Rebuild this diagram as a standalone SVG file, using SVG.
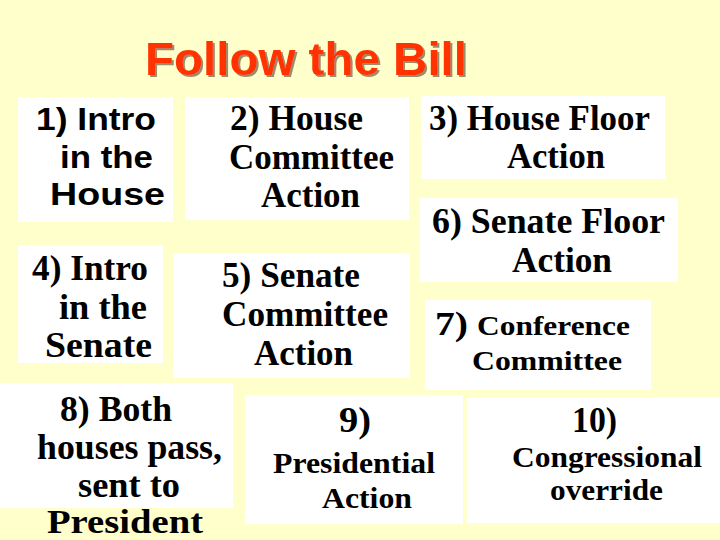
<svg xmlns="http://www.w3.org/2000/svg" width="720" height="540" viewBox="0 0 720 540">
<defs>
<filter id="shadow" x="-5%" y="-20%" width="110%" height="140%">
<feDropShadow dx="2" dy="2" stdDeviation="0.4" flood-color="#9C8C6C" flood-opacity="1"/>
</filter>
</defs>
<style>
.bg{fill:#FFFFCC}
.box{fill:#FFFFFF}
.sans{font-family:"Liberation Sans",Arial,sans-serif;font-weight:bold;font-size:32px;fill:#000}
.serif{font-family:"Liberation Serif","Times New Roman",serif;font-weight:bold;font-size:35px;fill:#000}
.title{font-family:"Liberation Sans",Arial,sans-serif;font-weight:bold;font-size:47px;fill:#FF3300}
</style>
<rect class="bg" x="0" y="0" width="720" height="540"/>
<g id="title">
<text class="title" x="145" y="75" filter="url(#shadow)" textLength="322" lengthAdjust="spacingAndGlyphs">Follow the Bill</text>
</g>
<g id="connectors"/>
<g id="step1">
<rect class="box" x="18" y="97" width="155" height="125"/>
<text class="sans" x="36" y="130" textLength="120" lengthAdjust="spacingAndGlyphs">1) Intro</text>
<text class="sans" x="60" y="168" textLength="93" lengthAdjust="spacingAndGlyphs">in the</text>
<text class="sans" x="50" y="205" textLength="115" lengthAdjust="spacingAndGlyphs">House</text>
</g>
<g id="step2">
<rect class="box" x="185" y="97" width="224" height="123"/>
<text class="serif" x="230" y="130" textLength="133" lengthAdjust="spacingAndGlyphs">2) House</text>
<text class="serif" x="229" y="169" textLength="165" lengthAdjust="spacingAndGlyphs">Committee</text>
<text class="serif" x="261" y="207" textLength="99" lengthAdjust="spacingAndGlyphs">Action</text>
</g>
<g id="step3">
<rect class="box" x="421" y="96" width="244" height="83"/>
<text class="serif" x="429" y="130" textLength="221" lengthAdjust="spacingAndGlyphs">3) House Floor</text>
<text class="serif" x="507" y="168" textLength="98" lengthAdjust="spacingAndGlyphs">Action</text>
</g>
<g id="step4">
<rect class="box" x="18" y="245" width="145" height="118"/>
<text class="serif" x="32" y="280" textLength="116" lengthAdjust="spacingAndGlyphs">4) Intro</text>
<text class="serif" x="59" y="319" textLength="88" lengthAdjust="spacingAndGlyphs">in the</text>
<text class="serif" x="45" y="357" textLength="107" lengthAdjust="spacingAndGlyphs">Senate</text>
</g>
<g id="step5">
<rect class="box" x="173" y="253" width="237" height="125"/>
<text class="serif" x="222" y="287" textLength="138" lengthAdjust="spacingAndGlyphs">5) Senate</text>
<text class="serif" x="222" y="326" textLength="166" lengthAdjust="spacingAndGlyphs">Committee</text>
<text class="serif" x="254" y="365" textLength="99" lengthAdjust="spacingAndGlyphs">Action</text>
</g>
<g id="step6">
<rect class="box" x="420" y="198" width="258" height="84"/>
<text class="serif" x="432" y="233" textLength="233" lengthAdjust="spacingAndGlyphs">6) Senate Floor</text>
<text class="serif" x="512" y="272" textLength="100" lengthAdjust="spacingAndGlyphs">Action</text>
</g>
<g id="step7">
<rect class="box" x="425" y="300" width="226" height="90"/>
<text class="serif" x="435" y="335" style="font-size:34px" textLength="33" lengthAdjust="spacingAndGlyphs">7)</text>
<text class="serif" x="477" y="335" style="font-size:27px" textLength="153" lengthAdjust="spacingAndGlyphs">Conference</text>
<text class="serif" x="472" y="370" style="font-size:27px" textLength="150" lengthAdjust="spacingAndGlyphs">Committee</text>
</g>
<g id="step8">
<rect class="box" x="0" y="383" width="233" height="125"/>
<text class="serif" x="60" y="421" textLength="112" lengthAdjust="spacingAndGlyphs">8) Both</text>
<text class="serif" x="37" y="459" textLength="185" lengthAdjust="spacingAndGlyphs">houses pass,</text>
<text class="serif" x="78" y="497" textLength="102" lengthAdjust="spacingAndGlyphs">sent to</text>
<text class="serif" x="47" y="533" style="font-size:34px" textLength="156" lengthAdjust="spacingAndGlyphs">President</text>
</g>
<g id="step9">
<rect class="box" x="245" y="395" width="218" height="129"/>
<text class="serif" x="339" y="432" textLength="32" lengthAdjust="spacingAndGlyphs">9)</text>
<text class="serif" x="273" y="473" style="font-size:29px" textLength="162" lengthAdjust="spacingAndGlyphs">Presidential</text>
<text class="serif" x="322" y="508" style="font-size:29px" textLength="90" lengthAdjust="spacingAndGlyphs">Action</text>
</g>
<g id="step10">
<rect class="box" x="467" y="397" width="253" height="126"/>
<text class="serif" x="572" y="432" textLength="45" lengthAdjust="spacingAndGlyphs">10)</text>
<text class="serif" x="512" y="467" style="font-size:29px" textLength="190" lengthAdjust="spacingAndGlyphs">Congressional</text>
<text class="serif" x="550" y="500" style="font-size:29px" textLength="113" lengthAdjust="spacingAndGlyphs">override</text>
</g>
</svg>
